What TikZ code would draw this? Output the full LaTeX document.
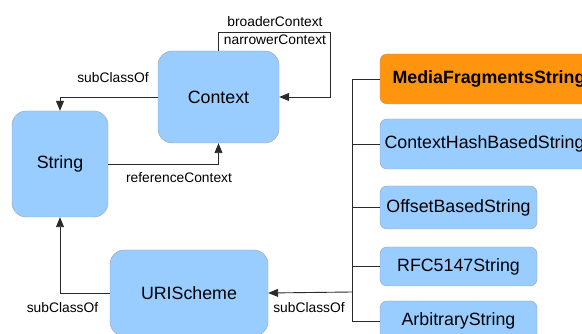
\documentclass[tikz,border=0pt]{standalone}
\usepackage{fontspec}
\setmainfont{Liberation Sans}
\usetikzlibrary{arrows.meta}
\definecolor{classblue}{HTML}{99CCFF}
\definecolor{classorange}{HTML}{FF950E}
\definecolor{classedge}{HTML}{A0A0A0}
\definecolor{linkgray}{HTML}{2A2A2A}

\begin{document}
\begin{tikzpicture}[x=1pt, y=-1pt,
  class/.style = {shape=rectangle, rounded corners=14pt,
    draw=classedge, fill=classblue, inner sep=0pt, align=center,
    font=\fontsize{17.8}{20}\selectfont},
  subclass/.style = {class, rounded corners=7pt},
  link/.style = {draw=linkgray, line width=0.9pt},
  arrow/.style = {link, -{Triangle[length=10pt,width=8pt]}},
  lbl/.style = {font=\fontsize{13.8}{16}\selectfont}]
    \useasboundingbox (0,0) rectangle (582,334);
    % classes
    \node[class, minimum width=121pt, minimum height=92pt] (context) at (218.5,97) {Context};
    \node[class, minimum width=96pt, minimum height=106pt] (string) at (60,164) {String};
    \node[class, minimum width=158pt, minimum height=86pt] (uri) at (189,293) {URIScheme};
    % subclasses of URIScheme
    \node[subclass, fill=classorange, font=\fontsize{17.8}{20}\selectfont\bfseries,
      minimum width=218pt, minimum height=50pt] (media) at (489,79) {MediaFragmentsString};
    \node[subclass, minimum width=209pt, minimum height=50pt] (hash) at (484.5,144) {ContextHashBasedString};
    \node[subclass, minimum width=157pt, minimum height=43pt] (offset) at (458.5,207.5) {OffsetBasedString};
    \node[subclass, minimum width=157pt, minimum height=39pt] (rfc) at (458.5,266.5) {RFC5147String};
    \node[subclass, minimum width=157pt, minimum height=40pt] (arbitrary) at (458.5,321) {ArbitraryString};
    % links
    \coordinate (loop) at (330,32);
    \coordinate (hub) at (352,292);
    \draw[arrow] (context.west) -| (string.north);
    \draw[arrow] (string.east) -| (context.south);
    \draw[arrow] (context.north) |- (loop) |- (context.east);
    \draw[arrow] (uri.west) -| (string.south);
    \draw[arrow] (hub) -- (uri.east);
    \foreach \sub in {media, hash, offset, rfc, arbitrary}
        \draw[link] (hub) |- (\sub.west);
    % labels
    \node[lbl] (subctx) at (113,78) {subClassOf};
    \node[lbl] (refctx) at (179,178) {referenceContext};
    \node[lbl] (broader) at (275,22) {broaderContext};
    \node[lbl] (narrower) at (275,40) {narrowerContext};
    \node[lbl] (suburi) at (62.5,308) {subClassOf};
    \node[lbl] (subsub) at (309,308) {subClassOf};
\end{tikzpicture}
\end{document}
